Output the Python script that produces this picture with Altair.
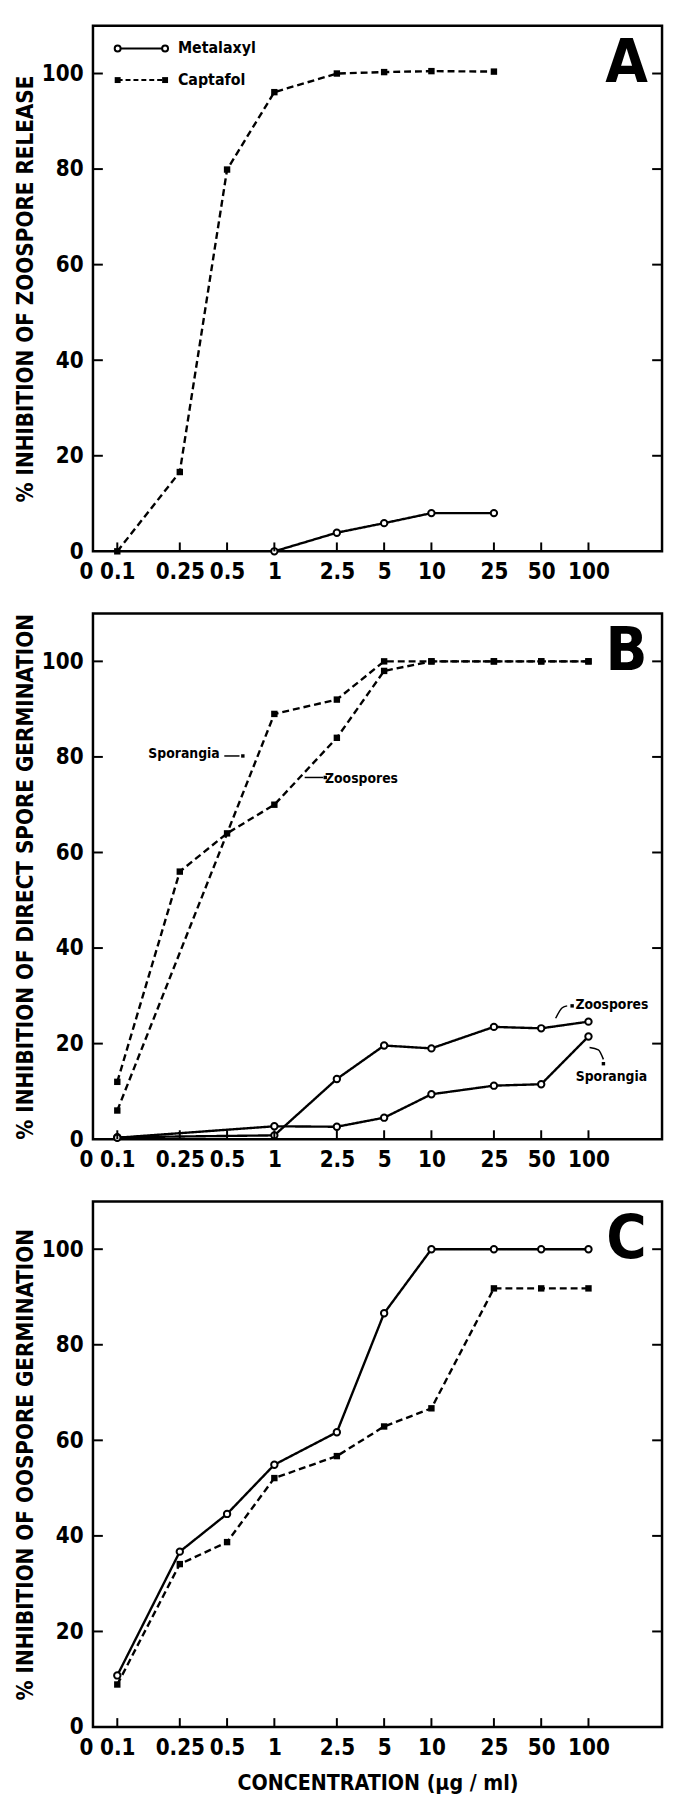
import altair as alt
import pandas as pd

FONT = "DejaVu Sans Condensed, Liberation Sans Narrow, Liberation Sans, sans-serif"

# ---------------- data ----------------
conc_ticks = [0.1, 0.25, 0.5, 1, 2.5, 5, 10, 25, 50, 100]
y_ticks = [0, 20, 40, 60, 80, 100]

# Panel A : zoospore release
a_metalaxyl_conc = [1, 2.5, 5, 10, 25]
a_metalaxyl_pct = [0, 3.9, 5.9, 8.0, 8.0]
a_captafol_conc = [0.1, 0.25, 0.5, 1, 2.5, 5, 10, 25]
a_captafol_pct = [0, 16.6, 79.9, 96.1, 100.0, 100.3, 100.5, 100.4]

# Panel B : direct spore germination
b_capt_zoo_conc = [0.1, 0.25, 0.5, 1, 2.5, 5, 10, 25, 50, 100]
b_capt_zoo_pct = [12, 56, 64, 70, 84, 98, 100, 100, 100, 100]
b_capt_spor_conc = [0.1, 1, 2.5, 5, 10, 25, 50, 100]
b_capt_spor_pct = [6, 89, 92, 100, 100, 100, 100, 100]
b_met_conc = [0.1, 1, 2.5, 5, 10, 25, 50, 100]
b_met_zoo_pct = [0.4, 0.8, 12.6, 19.6, 19.0, 23.5, 23.2, 24.6]
b_met_spor_pct = [0.3, 2.7, 2.6, 4.5, 9.4, 11.2, 11.5, 21.5]

# Panel C : oospore germination
c_conc = [0.1, 0.25, 0.5, 1, 2.5, 5, 10, 25, 50, 100]
c_metalaxyl_pct = [10.8, 36.7, 44.6, 54.9, 61.7, 86.6, 100, 100, 100, 100]
c_captafol_pct = [8.9, 34.1, 38.7, 52.1, 56.7, 62.9, 66.7, 91.8, 91.8, 91.8]

# Panel B annotations (data coordinates)
b_label_text = ["Sporangia", "Zoospores", "Zoospores", "Sporangia"]
b_label_conc = [0.266, 3.59, 141, 140]
b_label_pct = [80.6, 75.3, 28.0, 12.9]
b_arrow_id = ["s1", "s1", "z1", "z1", "z2", "z2", "z2", "s2", "s2", "s2"]
b_arrow_conc = [0.48, 0.60, 1.56, 2.05, 61.8, 68.1, 73.2, 101.6, 115.6, 124.5]
b_arrow_pct = [80.2, 80.2, 75.7, 75.7, 25.3, 27.5, 27.9, 19.2, 18.7, 16.7]
b_dot_conc = [0.63, 2.11, 78.7, 124.5]
b_dot_pct = [80.2, 75.7, 27.9, 15.8]

# ---------------- layout ----------------
W, H = 576, 532
X_DOMAIN = [0.07, 294]
Y_DOMAIN = [0, 110]
xscale = alt.Scale(type="log", domain=X_DOMAIN, nice=False)
yscale = alt.Scale(domain=Y_DOMAIN, nice=False, zero=False)


def series(conc, pct, name, kind):
    return pd.DataFrame({"conc": conc, "pct": pct, "series": name, "kind": kind})


def x_enc(title):
    ax = alt.Axis(values=[X_DOMAIN[0]] + conc_ticks,
                  labelExpr="datum.value < 0.09 ? '0' : '' + datum.value",
                  labelAlign={"condition": {"test": "datum.value < 0.09", "value": "right"},
                              "value": "center"},
                  labelFlush=False, labelOverlap=False, labelPadding=10,
                  titlePadding=14, titleFontSize=21.5, title=title)
    return alt.X("conc:Q", scale=xscale, axis=ax)


def y_enc(title):
    return alt.Y("pct:Q", scale=yscale,
                 axis=alt.Axis(values=y_ticks, title=title, titlePadding=4,
                               labelPadding=10, titleFontSize=22.5))


def panel(df, ytitle, letter, xtitle=None, extras=()):
    X = x_enc(xtitle)
    Y = y_enc(ytitle)
    base = alt.Chart(df)
    lines = base.mark_line(color="black", strokeWidth=2.4).encode(
        x=X, y=Y, detail="series:N",
        strokeDash=alt.StrokeDash("kind:N", scale=alt.Scale(
            domain=["Metalaxyl", "Captafol"], range=[[1, 0], [7, 4]]), legend=None))
    circles = base.transform_filter(alt.datum.kind == "Metalaxyl").mark_point(
        shape="circle", filled=True, fill="white", stroke="black",
        strokeWidth=2, size=42, opacity=1).encode(x=X, y=Y)
    squares = base.transform_filter(alt.datum.kind == "Captafol").mark_square(
        color="black", size=42, opacity=1).encode(x=X, y=Y)
    ytk = pd.DataFrame({"pct": y_ticks[1:]})
    left = alt.Chart(ytk).mark_rule(color="black", strokeWidth=2).encode(
        y=Y, x=alt.value(0), x2=alt.value(10))
    right = alt.Chart(ytk).mark_rule(color="black", strokeWidth=2).encode(
        y=Y, x=alt.value(W - 10), x2=alt.value(W))
    bottom = alt.Chart(pd.DataFrame({"conc": conc_ticks})).mark_rule(
        color="black", strokeWidth=2).encode(x=X, y=alt.value(H - 9), y2=alt.value(H))
    let = alt.Chart(pd.DataFrame({"t": [letter]})).mark_text(
        font=FONT, fontWeight="bold", fontSize=62, align="center",
        baseline="middle", color="black").encode(
        text="t:N", x=alt.value(W - 36), y=alt.value(38))
    layers = [lines, circles, squares, left, right, bottom, let]
    for e in extras:
        layers += e(X, Y)
    return alt.layer(*layers).properties(width=W, height=H)


one = pd.DataFrame({"a": [0]})


def legend_layers(X, Y):
    out = []
    rows = [("Metalaxyl", 23, [1, 0], "circle"), ("Captafol", 55, [5, 3], "square")]
    for name, yy, dash, shp in rows:
        out.append(alt.Chart(one).mark_rule(color="black", strokeWidth=2, strokeDash=dash)
                   .encode(x=alt.value(25), x2=alt.value(73), y=alt.value(yy)))
        for xx in (25, 73):
            if shp == "circle":
                m = alt.Chart(one).mark_point(shape="circle", filled=True, fill="white",
                                              stroke="black", strokeWidth=2, size=36, opacity=1)
            else:
                m = alt.Chart(one).mark_square(color="black", size=36, opacity=1)
            out.append(m.encode(x=alt.value(xx), y=alt.value(yy)))
        out.append(alt.Chart(pd.DataFrame({"t": [name]})).mark_text(
            font=FONT, fontWeight="bold", fontSize=16, align="left", baseline="middle",
            color="black").encode(text="t:N", x=alt.value(86), y=alt.value(yy)))
    return out


def b_annotations(X, Y):
    lab = pd.DataFrame({"t": b_label_text, "conc": b_label_conc, "pct": b_label_pct})
    arr = pd.DataFrame({"id": b_arrow_id, "conc": b_arrow_conc, "pct": b_arrow_pct})
    dots = pd.DataFrame({"conc": b_dot_conc, "pct": b_dot_pct})
    t = alt.Chart(lab).mark_text(font=FONT, fontWeight="bold", fontSize=14,
                                 align="center", baseline="middle", color="black").encode(
        x=X, y=Y, text="t:N")
    a = alt.Chart(arr).mark_line(color="black", strokeWidth=1.5, interpolate="monotone").encode(
        x=X, y=Y, detail="id:N")
    d = alt.Chart(dots).mark_square(color="black", size=12, opacity=1).encode(x=X, y=Y)
    return [a, d, t]


df_a = pd.concat([
    series(a_metalaxyl_conc, a_metalaxyl_pct, "met", "Metalaxyl"),
    series(a_captafol_conc, a_captafol_pct, "cap", "Captafol")])
df_b = pd.concat([
    series(b_capt_zoo_conc, b_capt_zoo_pct, "cap_zoo", "Captafol"),
    series(b_capt_spor_conc, b_capt_spor_pct, "cap_spor", "Captafol"),
    series(b_met_conc, b_met_zoo_pct, "met_zoo", "Metalaxyl"),
    series(b_met_conc, b_met_spor_pct, "met_spor", "Metalaxyl")])
df_c = pd.concat([
    series(c_conc, c_metalaxyl_pct, "met", "Metalaxyl"),
    series(c_conc, c_captafol_pct, "cap", "Captafol")])

pa = panel(df_a, "% INHIBITION OF ZOOSPORE RELEASE", "A", extras=[legend_layers])
pb = panel(df_b, "% INHIBITION OF DIRECT SPORE GERMINATION", "B", extras=[b_annotations])
pc = panel(df_c, "% INHIBITION OF OOSPORE GERMINATION", "C",
           xtitle="CONCENTRATION  (\u03bcg / ml)")

chart = alt.vconcat(pa, pb, pc, spacing=27).properties(
    padding={"left": 5, "top": 5, "right": 0, "bottom": 0},
    background="white",
).configure_view(stroke="black", strokeWidth=2.5).configure_axis(
    labelFont=FONT, labelFontSize=22.5, labelFontWeight="bold", labelColor="black",
    titleFont=FONT, titleFontWeight="bold", titleColor="black",
    domain=False, ticks=False, grid=False,
)

chart.save("out.html", embed_options={"renderer": "svg", "actions": False})
